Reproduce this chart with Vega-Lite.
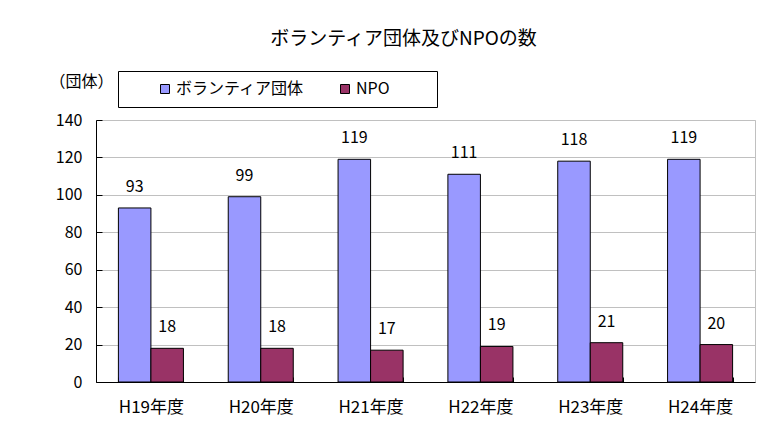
{
  "$schema": "https://vega.github.io/schema/vega-lite/v6.json",
  "width": 659,
  "height": 262,
  "autosize": {"type": "none"},
  "padding": {"left": 96, "top": 120, "right": 14, "bottom": 61},
  "background": "white",
  "config": {
    "font": "Noto Sans CJK JP",
    "view": {"stroke": "#C0C0C0", "strokeWidth": 1}
  },
  "title": {
    "text": "ボランティア団体及びNPOの数",
    "fontSize": 19,
    "fontWeight": "normal",
    "color": "black",
    "anchor": "middle",
    "frame": "group",
    "dx": -22,
    "offset": 22
  },
  "data": {
    "values": [
      {"year": "H19年度", "series": "ボランティア団体", "value": 93},
      {"year": "H19年度", "series": "NPO", "value": 18},
      {"year": "H20年度", "series": "ボランティア団体", "value": 99},
      {"year": "H20年度", "series": "NPO", "value": 18},
      {"year": "H21年度", "series": "ボランティア団体", "value": 119},
      {"year": "H21年度", "series": "NPO", "value": 17},
      {"year": "H22年度", "series": "ボランティア団体", "value": 111},
      {"year": "H22年度", "series": "NPO", "value": 19},
      {"year": "H23年度", "series": "ボランティア団体", "value": 118},
      {"year": "H23年度", "series": "NPO", "value": 21},
      {"year": "H24年度", "series": "ボランティア団体", "value": 119},
      {"year": "H24年度", "series": "NPO", "value": 20}
    ]
  },
  "encoding": {
    "x": {
      "field": "year",
      "type": "nominal",
      "sort": null,
      "scale": {"paddingInner": 0.408, "paddingOuter": 0.204},
      "axis": {
        "title": null,
        "labelAngle": 0,
        "labelFontSize": 17,
        "labelColor": "black",
        "labelPadding": 22,
        "tickBand": "extent",
        "tickSize": -5,
        "tickColor": "black",
        "tickWidth": 1,
        "domainColor": "black",
        "grid": false
      }
    },
    "xOffset": {
      "field": "series",
      "type": "nominal",
      "sort": ["ボランティア団体", "NPO"],
      "scale": {"paddingInner": 0, "paddingOuter": 0}
    },
    "y": {
      "field": "value",
      "type": "quantitative",
      "scale": {"domain": [0, 140], "nice": false},
      "axis": {
        "values": [0, 20, 40, 60, 80, 100, 120, 140],
        "title": "（団体）",
        "titleAngle": 0,
        "titleX": -47,
        "titleY": -39,
        "titleAlign": "left",
        "titleBaseline": "middle",
        "titleFontSize": 16,
        "titleFontWeight": "normal",
        "titleColor": "black",
        "grid": true,
        "gridColor": "#C0C0C0",
        "domainColor": "black",
        "tickColor": "black",
        "tickSize": -6,
        "labelPadding": 20,
        "labelFontSize": 16,
        "labelColor": "black"
      }
    }
  },
  "layer": [
    {
      "mark": {"type": "bar", "stroke": "black", "strokeWidth": 1},
      "encoding": {
        "color": {
          "field": "series",
          "type": "nominal",
          "scale": {"domain": ["ボランティア団体", "NPO"], "range": ["#9999FF", "#993366"]},
          "legend": {
            "orient": "none",
            "legendX": 22,
            "legendY": -49,
            "direction": "horizontal",
            "title": "　",
            "titleOrient": "right",
            "titleFontSize": 1,
            "titlePadding": 37,
            "strokeColor": "black",
            "fillColor": "white",
            "padding": 10,
            "labelFontSize": 16,
            "labelColor": "black",
            "symbolType": "square",
            "symbolSize": 81,
            "symbolOffset": 29,
            "labelOffset": 3,
            "symbolStrokeColor": "black",
            "symbolStrokeWidth": 1,
            "columnPadding": 3
          }
        }
      }
    },
    {
      "mark": {"type": "text", "dy": -21, "fontSize": 16, "color": "black", "baseline": "middle"},
      "encoding": {
        "text": {"field": "value", "type": "quantitative"}
      }
    }
  ]
}
